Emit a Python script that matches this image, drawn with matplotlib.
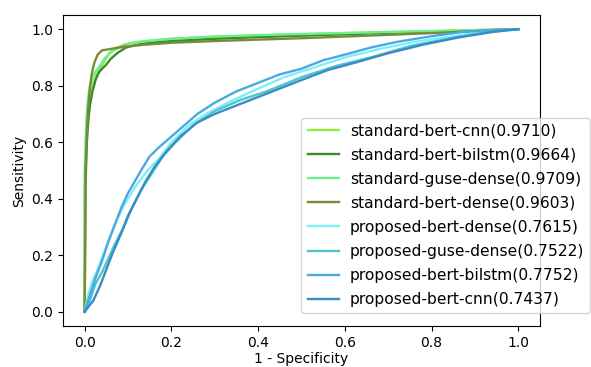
import matplotlib
matplotlib.use("Agg")
import matplotlib.pyplot as plt

# ROC curves: (1 - specificity, sensitivity) pairs
std_bert_cnn_x = [0, 0.0, 0.003, 0.006, 0.01, 0.014, 0.02, 0.027, 0.035, 0.045, 0.055, 0.07, 0.09, 0.12, 0.16, 0.2, 0.3, 0.4, 0.5, 0.6, 0.7, 0.8, 0.9, 1.0]
std_bert_cnn_y = [0, 0.45, 0.6, 0.68, 0.74, 0.77, 0.81, 0.84, 0.86, 0.885, 0.91, 0.93, 0.945, 0.955, 0.96, 0.966, 0.973, 0.978, 0.982, 0.986, 0.99, 0.993, 0.997, 1.0]

std_bert_bilstm_x = [0, 0.002, 0.005, 0.008, 0.012, 0.018, 0.025, 0.032, 0.04, 0.05, 0.06, 0.075, 0.095, 0.13, 0.2, 0.3, 0.4, 0.5, 0.6, 0.7, 0.8, 0.9, 1.0]
std_bert_bilstm_y = [0, 0.45, 0.6, 0.67, 0.73, 0.78, 0.82, 0.845, 0.86, 0.875, 0.895, 0.915, 0.935, 0.948, 0.958, 0.966, 0.972, 0.977, 0.982, 0.987, 0.99, 0.995, 1.0]

std_guse_dense_x = [0, 0.0, 0.004, 0.008, 0.012, 0.018, 0.025, 0.035, 0.045, 0.06, 0.08, 0.1, 0.14, 0.2, 0.3, 0.4, 0.5, 0.7, 0.85, 1.0]
std_guse_dense_y = [0, 0.5, 0.68, 0.76, 0.8, 0.83, 0.85, 0.87, 0.895, 0.92, 0.935, 0.948, 0.958, 0.966, 0.974, 0.979, 0.983, 0.99, 0.995, 1.0]

std_bert_dense_x = [0, 0.002, 0.005, 0.008, 0.012, 0.016, 0.022, 0.03, 0.04, 0.06, 0.09, 0.13, 0.2, 0.3, 0.4, 0.5, 0.6, 0.7, 0.8, 0.9, 1.0]
std_bert_dense_y = [0, 0.5, 0.64, 0.72, 0.79, 0.84, 0.88, 0.91, 0.925, 0.93, 0.938, 0.944, 0.952, 0.958, 0.963, 0.968, 0.974, 0.98, 0.986, 0.993, 1.0]

prop_bert_dense_x = [0, 0.008, 0.018, 0.03, 0.042, 0.055, 0.07, 0.085, 0.1, 0.12, 0.145, 0.17, 0.2, 0.24, 0.28, 0.33, 0.4, 0.46, 0.52, 0.6, 0.68, 0.76, 0.85, 0.93, 1.0]
prop_bert_dense_y = [0, 0.06, 0.11, 0.15, 0.2, 0.25, 0.31, 0.36, 0.4, 0.45, 0.5, 0.54, 0.6, 0.66, 0.7, 0.74, 0.79, 0.83, 0.86, 0.9, 0.93, 0.955, 0.975, 0.993, 1.0]

prop_guse_dense_x = [0, 0.012, 0.025, 0.04, 0.055, 0.07, 0.09, 0.11, 0.13, 0.155, 0.18, 0.21, 0.25, 0.3, 0.36, 0.42, 0.5, 0.58, 0.66, 0.75, 0.85, 0.93, 1.0]
prop_guse_dense_y = [0, 0.04, 0.1, 0.14, 0.19, 0.24, 0.3, 0.37, 0.43, 0.49, 0.55, 0.6, 0.66, 0.71, 0.75, 0.78, 0.83, 0.87, 0.9, 0.94, 0.97, 0.99, 1.0]

prop_bert_bilstm_x = [0, 0.01, 0.025, 0.04, 0.055, 0.07, 0.085, 0.1, 0.115, 0.13, 0.15, 0.17, 0.2, 0.23, 0.26, 0.3, 0.35, 0.4, 0.45, 0.5, 0.55, 0.6, 0.66, 0.72, 0.8, 0.87, 0.95, 1.0]
prop_bert_bilstm_y = [0, 0.05, 0.12, 0.18, 0.25, 0.31, 0.37, 0.42, 0.46, 0.5, 0.55, 0.58, 0.62, 0.66, 0.7, 0.74, 0.78, 0.81, 0.84, 0.86, 0.89, 0.91, 0.935, 0.955, 0.975, 0.99, 0.998, 1.0]

prop_bert_cnn_x = [0, 0.02, 0.035, 0.05, 0.065, 0.085, 0.1, 0.12, 0.14, 0.16, 0.19, 0.22, 0.26, 0.3, 0.35, 0.4, 0.45, 0.5, 0.56, 0.62, 0.7, 0.78, 0.86, 0.94, 1.0]
prop_bert_cnn_y = [0, 0.04, 0.09, 0.15, 0.21, 0.28, 0.34, 0.4, 0.46, 0.51, 0.57, 0.62, 0.67, 0.7, 0.73, 0.76, 0.79, 0.82, 0.855, 0.88, 0.915, 0.945, 0.97, 0.99, 1.0]

labels = [
    "standard-bert-cnn(0.9710)",
    "standard-bert-bilstm(0.9664)",
    "standard-guse-dense(0.9709)",
    "standard-bert-dense(0.9603)",
    "proposed-bert-dense(0.7615)",
    "proposed-guse-dense(0.7522)",
    "proposed-bert-bilstm(0.7752)",
    "proposed-bert-cnn(0.7437)",
]
colors = ["#8fef45", "#3e8a2e", "#6cf08a", "#768c36",
          "#7eeff8", "#4cc6cc", "#4aa9e2", "#3a8cc4"]
curves = [
    (std_bert_cnn_x, std_bert_cnn_y),
    (std_bert_bilstm_x, std_bert_bilstm_y),
    (std_guse_dense_x, std_guse_dense_y),
    (std_bert_dense_x, std_bert_dense_y),
    (prop_bert_dense_x, prop_bert_dense_y),
    (prop_guse_dense_x, prop_guse_dense_y),
    (prop_bert_bilstm_x, prop_bert_bilstm_y),
    (prop_bert_cnn_x, prop_bert_cnn_y),
]

fig = plt.figure(figsize=(5.91, 3.67), dpi=100)
ax = fig.add_axes([0.1066, 0.112, 0.807, 0.847])

for (xs, ys), lab, col in zip(curves, labels, colors):
    ax.plot(xs, ys, color=col, lw=1.7, label=lab)

ax.set_xlim(-0.05, 1.05)
ax.set_ylim(-0.05, 1.05)
ax.set_xlabel("1 - Specificity", fontsize=10, labelpad=2)
ax.set_ylabel("Sensitivity", fontsize=10)
ax.tick_params(labelsize=10)

ax.legend(loc="upper left", bbox_to_anchor=(0.5, 0.67), borderaxespad=0,
          fontsize=11.2, labelspacing=0.58, handletextpad=0.7,
          framealpha=0.8)

fig.savefig("out.png", dpi=100)
